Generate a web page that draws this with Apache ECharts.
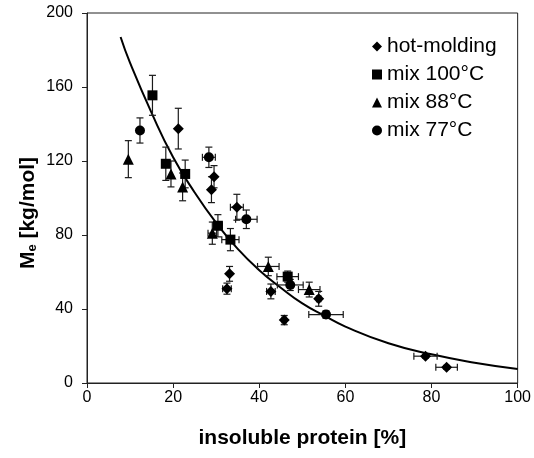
<!DOCTYPE html>
<html>
<head>
<meta charset="utf-8">
<script src="https://cdn.jsdelivr.net/npm/echarts@6/dist/echarts.min.js"></script>
<style>
  html, body { margin: 0; padding: 0; background: #fff; }
  #chart { width: 534px; height: 458px; }
</style>
</head>
<body>
<div id="chart"></div>
<script>
// series names (legend order)
const seriesNames = ['hot-molding', 'mix 100°C', 'mix 88°C', 'mix 77°C']
const seriesSymbols = ['diamond', 'rect', 'triangle', 'circle']

// points [insoluble protein %, Me kg/mol]
const hotMolding = [[21.2, 137.5], [29.5, 111.5], [28.9, 104.5], [34.8, 95], [33.1, 59], [32.5, 51], [42.7, 49.5], [45.8, 34], [53.8, 45.5], [78.6, 14.5], [83.5, 8.5]]
const mix100 = [[15.2, 155.5], [18.3, 118.5], [22.8, 113], [30.4, 85], [33.3, 77.5], [46.6, 57.5]]
const mix88 = [[9.6, 121], [19.5, 113], [22.2, 106], [29.1, 81], [42.1, 63], [51.6, 50.5]]
const mix77 = [[12.3, 136.5], [28.3, 122], [37, 88.5], [47.2, 53], [55.5, 37]]

// error bars [xErr, yErr]
const hotMoldingErr = [[0, 11], [0, 6], [0, 7], [1.5, 7], [0, 4], [1, 3], [1, 4], [0.5, 2.5], [0.5, 4], [2.7, 1], [2.5, 1]]
const mix100Err = [[0, 10.8], [0, 9], [0, 7.5], [1, 6], [2, 6], [2.5, 3]]
const mix88Err = [[0, 10], [0, 7], [0, 7.5], [1, 6], [2.5, 5], [2.5, 4]]
const mix77Err = [[0, 6.8], [1.5, 5.5], [2.5, 5], [3, 3], [4, 2]]

// fitted curve
const curveX = [7.8, 10, 15, 20, 25, 30, 35, 40, 45, 50, 55, 60, 70, 80, 90, 100]
const curveY = [187, 173, 146, 122, 103, 86.5, 72.5, 61, 51.5, 43, 36.5, 30.5, 21.5, 15.5, 11, 7.6]

const xTicks = [0, 20, 40, 60, 80, 100]
const yTicks = [0, 40, 80, 120, 160, 200]

const groups = [hotMolding, mix100, mix88, mix77]
const groupErrs = [hotMoldingErr, mix100Err, mix88Err, mix77Err]

const chart = echarts.init(document.getElementById('chart'))

// all error bars in one custom series
const errData = []
groups.forEach((pts, g) => {
  pts.forEach((p, i) => {
    errData.push([p[0], p[1], groupErrs[g][i][0], groupErrs[g][i][1]])
  })
})

function renderErr(params, api) {
  const x = api.value(0)
  const y = api.value(1)
  const ex = api.value(2)
  const ey = api.value(3)
  const cap = 3.5
  const style = { stroke: '#1a1a1a', lineWidth: 1.2 }
  const children = []
  if (ey > 0) {
    const top = api.coord([x, y + ey])
    const bot = api.coord([x, y - ey])
    children.push({ type: 'line', shape: { x1: top[0], y1: top[1], x2: bot[0], y2: bot[1] }, style })
    children.push({ type: 'line', shape: { x1: top[0] - cap, y1: top[1], x2: top[0] + cap, y2: top[1] }, style })
    children.push({ type: 'line', shape: { x1: bot[0] - cap, y1: bot[1], x2: bot[0] + cap, y2: bot[1] }, style })
  }
  if (ex > 0) {
    const l = api.coord([x - ex, y])
    const r = api.coord([x + ex, y])
    children.push({ type: 'line', shape: { x1: l[0], y1: l[1], x2: r[0], y2: r[1] }, style })
    children.push({ type: 'line', shape: { x1: l[0], y1: l[1] - cap, x2: l[0], y2: l[1] + cap }, style })
    children.push({ type: 'line', shape: { x1: r[0], y1: r[1] - cap, x2: r[0], y2: r[1] + cap }, style })
  }
  return { type: 'group', children }
}

const symbolSizes = [11, 10, 11, 10]

const option = {
  backgroundColor: '#fff',
  animation: false,
  textStyle: { fontFamily: 'Liberation Sans, Arial, sans-serif' },
  grid: {
    left: 87, right: 15, top: 13, bottom: 75,
    show: true, borderColor: '#222', borderWidth: 1
  },
  legend: {
    data: seriesNames.map((n, i) => ({ name: n, icon: seriesSymbols[i] })),
    orient: 'vertical',
    left: 372,
    top: 36,
    padding: 0,
    itemWidth: 10,
    itemHeight: 10,
    itemGap: 7,
    textStyle: { fontSize: 21, color: '#000', fontFamily: 'Liberation Sans, Arial, sans-serif' }
  },
  xAxis: {
    type: 'value',
    min: xTicks[0],
    max: xTicks[xTicks.length - 1],
    interval: 20,
    name: 'insoluble protein [%]',
    nameLocation: 'middle',
    nameGap: 45,
    nameTextStyle: { fontSize: 21, fontWeight: 'bold', color: '#000' },
    axisLine: { onZero: false, lineStyle: { color: '#222', width: 1 } },
    axisTick: { length: 5, lineStyle: { color: '#222' } },
    axisLabel: { fontSize: 16, color: '#000', margin: 7 },
    splitLine: { show: false }
  },
  yAxis: {
    type: 'value',
    min: yTicks[0],
    max: yTicks[yTicks.length - 1],
    interval: 40,
    axisLine: { show: true, onZero: false, lineStyle: { color: '#222', width: 1 } },
    axisTick: { show: true, length: 5, lineStyle: { color: '#222' } },
    axisLabel: { fontSize: 16, color: '#000', margin: 14 },
    splitLine: { show: false }
  },
  graphic: [{
    type: 'text',
    x: 28,
    y: 213,
    rotation: Math.PI / 2,
    style: {
      text: '{m|M}{s|e}{m| [kg/mol]}',
      align: 'center',
      verticalAlign: 'middle',
      rich: {
        m: { fontSize: 21, fontWeight: 'bold', fill: '#000', fontFamily: 'Liberation Sans, Arial, sans-serif' },
        s: { fontSize: 13, fontWeight: 'bold', fill: '#000', fontFamily: 'Liberation Sans, Arial, sans-serif', padding: [9, 0, 0, 0] }
      }
    }
  }],
  series: [
    {
      name: 'fit',
      type: 'line',
      data: curveX.map((x, i) => [x, curveY[i]]),
      smooth: true,
      symbol: 'none',
      lineStyle: { color: '#000', width: 2 },
      z: 1
    },
    {
      name: 'errors',
      type: 'custom',
      data: errData,
      renderItem: renderErr,
      encode: { x: 0, y: 1 },
      z: 2
    },
    ...groups.map((pts, i) => ({
      name: seriesNames[i],
      type: 'scatter',
      data: pts,
      symbol: seriesSymbols[i],
      symbolSize: symbolSizes[i],
      itemStyle: { color: '#000', opacity: 1 },
      z: 3
    }))
  ]
}

chart.setOption(option)
</script>
</body>
</html>
